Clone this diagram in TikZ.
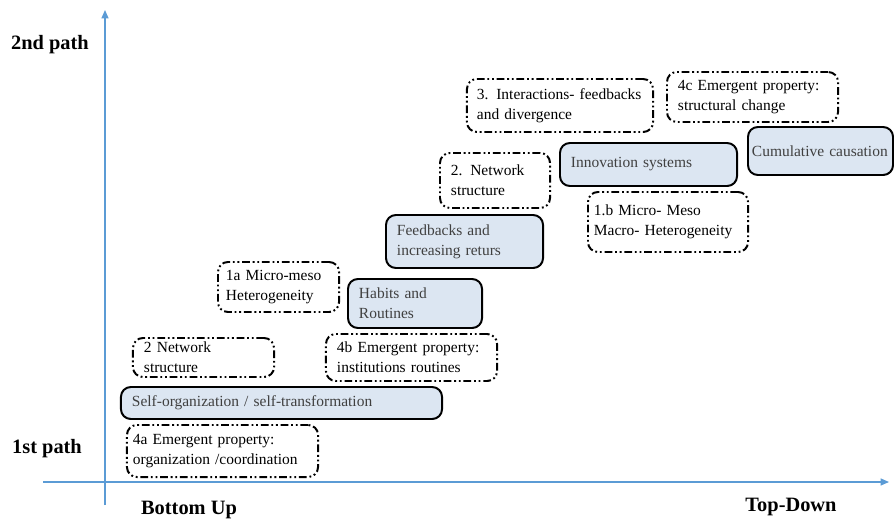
\documentclass[tikz,border=0pt]{standalone}
\usepackage{fontspec}
\setmainfont{Liberation Serif}
\usetikzlibrary{arrows.meta, positioning}

\definecolor{axisblue}{RGB}{91,155,213}
\definecolor{boxblue}{RGB}{220,230,242}
\definecolor{boxtext}{RGB}{64,64,64}

\begin{document}
\begin{tikzpicture}[x=0.025cm, y=-0.025cm,
    basebox/.style={rounded corners=7pt, line width=1.4pt, inner xsep=0.275cm, inner ysep=0pt,
        align=left, font=\fontsize{11}{14}\selectfont, execute at begin node={\hyphenpenalty=10000}},
    dashbox/.style={basebox, draw=black, dash pattern=on 5.5pt off 2pt on 1.3pt off 2pt on 1.3pt off 2pt},
    fillbox/.style={basebox, draw=black, fill=boxblue, text=boxtext},
    axislabel/.style={font=\fontsize{14.5}{16}\selectfont\bfseries}]
    \useasboundingbox (0,0) rectangle (894,521);

    % Axes
    \coordinate (origin low) at (105,505);
    \coordinate (yend) at (105,10);
    \coordinate (xstart) at (43,482);
    \coordinate (xend) at (889,482);
    \draw [axisblue, line width=0.9pt, arrows = {-Triangle[length=6pt, width=5pt]}] (origin low) -- (yend);
    \draw [axisblue, line width=0.9pt, arrows = {-Triangle[length=6pt, width=5pt]}] (xstart) -- (xend);

    % Axis labels
    \node[axislabel] (second) at (50,45) {2nd path};
    \node[axislabel] (first) at (47,449) {1st path};
    \node[axislabel] (bottomup) at (189,510) {Bottom Up};
    \node[axislabel] (topdown) at (791,507) {Top-Down};

    % Nodes
    \node[dashbox, inner xsep=0.15cm, text width=4.475cm, minimum height=1.3cm] (emerg a) at (222.5,451) {4a Emergent property:\\organization /coordination};
    \node[fillbox, text width=7.475cm, minimum height=0.8cm] (selforg) at (281.5,403) {Self-organization / self-transformation};
    \node[dashbox, text width=2.975cm, minimum height=0.975cm] (network one) at (203.5,357.5) {2 Network\\structure};
    \node[dashbox, text width=3.725cm, minimum height=1.175cm] (emerg b) at (411.5,357.5) {4b Emergent property:\\institutions routines};
    \node[dashbox, inner xsep=0.2cm, text width=2.625cm, minimum height=1.25cm] (hetero a) at (278.5,287) {1a Micro-meso\\Heterogeneity};
    \node[fillbox, text width=2.8cm, minimum height=1.225cm] (habits) at (415,303.5) {Habits and\\Routines};
    \node[fillbox, text width=3.375cm, minimum height=1.325cm] (feedbacks) at (464.5,241.5) {Feedbacks and\\increasing returs};
    \node[dashbox, text width=2.2cm, minimum height=1.375cm] (network two) at (495,180.5) {2. Network\\structure};
    \node[fillbox, text width=3.875cm, minimum height=1.075cm] (innovation) at (648.5,164.5) {Innovation systems};
    \node[dashbox, inner xsep=0.15cm, text width=3.7cm, minimum height=1.5cm] (hetero b) at (668,222) {1.b Micro- Meso\\Macro- Heterogeneity};
    \node[dashbox, inner xsep=0.25cm, text width=4.15cm, minimum height=1.325cm] (interact) at (560,105.5) {3. Interactions- feedbacks\\and divergence};
    \node[dashbox, text width=3.725cm, minimum height=1.25cm] (emerg c) at (752.5,97) {4c Emergent property:\\structural change};
    \node[fillbox, inner xsep=0.1cm, text width=3.425cm, minimum height=1.2cm] (cumul) at (820.5,151) {Cumulative causation};
\end{tikzpicture}
\end{document}
